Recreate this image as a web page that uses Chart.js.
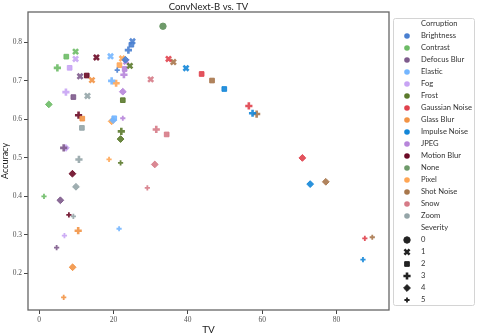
<!DOCTYPE html>
<html>
<head>
<meta charset="utf-8">
<script src="https://cdn.jsdelivr.net/npm/chart.js@4/dist/chart.umd.min.js"></script>
<style>
  body { margin: 0; background: #fff; }
</style>
</head>
<body>
<canvas id="chart" width="478" height="336"></canvas>
<script>
// --- data ---
const corruptions = ['Brightness', 'Contrast', 'Defocus Blur', 'Elastic', 'Fog', 'Frost',
  'Gaussian Noise', 'Glass Blur', 'Impulse Noise', 'JPEG', 'Motion Blur', 'Pixel',
  'Shot Noise', 'Snow', 'Zoom'];
const colors = ['#4a7fd0', '#6dbb66', '#7e5b8c', '#74b6ff', '#c8a4f4', '#5b7a2c',
  '#e0414d', '#f29345', '#1386d8', '#b785da', '#6b0a26', '#ffa655',
  '#a8774c', '#d67b87', '#95a5a8'];
const noneColor = '#6e9a6a';

// severity 1..5, one value per corruption (same order as above)
const tv1  = [25.1, 9.8, 11.0, 19.2, 9.8, 24.4, 34.8, 14.2, 39.5, 23.4, 15.4, 22.3, 36.1, 30.0, 13.0];
const acc1 = [0.803, 0.776, 0.712, 0.764, 0.757, 0.739, 0.757, 0.702, 0.733, 0.750, 0.761, 0.758, 0.749, 0.704, 0.661];
const tv2  = [24.8, 7.3, 9.2, 20.2, 8.2, 22.5, 43.7, 11.6, 49.8, 23.0, 12.8, 21.6, 46.5, 34.3, 11.5];
const acc2 = [0.794, 0.763, 0.658, 0.603, 0.734, 0.650, 0.718, 0.602, 0.679, 0.731, 0.714, 0.741, 0.701, 0.561, 0.578];
const tv3  = [24.0, 4.9, 6.6, 19.5, 7.2, 22.1, 56.4, 10.5, 57.4, 22.8, 10.6, 20.7, 58.5, 31.5, 10.7];
const acc3 = [0.780, 0.734, 0.526, 0.700, 0.671, 0.569, 0.635, 0.311, 0.616, 0.716, 0.611, 0.694, 0.614, 0.574, 0.496];
const tv4  = [23.2, 2.6, 5.7, 19.9, 7.2, 21.9, 70.8, 9.0, 72.9, 22.5, 8.95, 19.5, 77.1, 31.1, 9.9];
const acc4 = [0.755, 0.639, 0.390, 0.598, 0.526, 0.549, 0.500, 0.216, 0.432, 0.672, 0.459, 0.595, 0.438, 0.483, 0.425];
const tv5  = [21.0, 1.3, 4.7, 21.5, 6.8, 21.9, 87.6, 6.6, 87.1, 22.5, 8.0, 18.8, 89.6, 29.1, 9.2];
const acc5 = [0.728, 0.400, 0.267, 0.316, 0.298, 0.487, 0.291, 0.138, 0.236, 0.603, 0.352, 0.496, 0.294, 0.422, 0.348];

// severity 0 = no corruption
const noneTV = 33.3;
const noneAcc = 0.842;

const severities = ['0', '1', '2', '3', '4', '5'];
const xTicks = [0, 20, 40, 60, 80];
const yTicks = [0.2, 0.3, 0.4, 0.5, 0.6, 0.7, 0.8];

// --- marker look per severity ---
const sevStyle  = ['circle', 'crossRot', 'rect', 'cross', 'rectRot', 'cross'];
const sevRadius = [3.2, 3.6, 3.3, 3.6, 3.4, 2.6];
const sevBorder = [1, 2.6, 1, 2.6, 1, 1.8];

const tvs = [tv1, tv2, tv3, tv4, tv5];
const accs = [acc1, acc2, acc3, acc4, acc5];

const datasets = corruptions.map((name, c) => ({
  label: name,
  data: tvs.map((tv, s) => ({ x: tv[c], y: accs[s][c] })),
  pointStyle: [1, 2, 3, 4, 5].map(s => sevStyle[s]),
  pointRadius: [1, 2, 3, 4, 5].map(s => sevRadius[s]),
  pointBorderWidth: [1, 2, 3, 4, 5].map(s => sevBorder[s]),
  backgroundColor: colors[c] + 'e6',
  borderColor: colors[c] + 'e6'
}));
datasets.push({
  label: 'None',
  data: [{ x: noneTV, y: noneAcc }],
  pointStyle: 'circle',
  pointRadius: 3.2,
  pointBorderWidth: 1,
  backgroundColor: noneColor,
  borderColor: noneColor
});

// 凡例とタイトル、枠線は自前で描く
const legendNames = corruptions.slice(0, 11).concat(['None'], corruptions.slice(11));
const legendColors = colors.slice(0, 11).concat([noneColor], colors.slice(11));

const framePlugin = {
  id: 'frame',
  afterDraw(chart) {
    const { ctx, chartArea: a } = chart;
    ctx.save();
    ctx.strokeStyle = '#666';
    ctx.lineWidth = 1.3;
    ctx.strokeRect(a.left, a.top, a.right - a.left, a.bottom - a.top);

    // title
    ctx.fillStyle = '#222';
    ctx.font = '9.5px Lato';
    ctx.textAlign = 'center';
    ctx.textBaseline = 'middle';
    ctx.fillText('ConvNext-B vs. TV', (a.left + a.right) / 2, 6.5);

    // legend box
    ctx.strokeStyle = '#d4d4d4';
    ctx.lineWidth = 1;
    ctx.beginPath();
    ctx.roundRect(393.5, 18.5, 81, 287, 2);
    ctx.stroke();

    const mx = 407, tx = 421;
    ctx.font = '7.6px Lato';
    ctx.textAlign = 'left';
    let row = 0;
    const rowY = i => 24 + 12 * i;
    ctx.fillStyle = '#333';
    ctx.fillText('Corruption', tx, rowY(row++));
    legendNames.forEach((name, i) => {
      const y = rowY(row++);
      ctx.fillStyle = legendColors[i];
      ctx.beginPath();
      ctx.arc(mx, y, 2.8, 0, Math.PI * 2);
      ctx.fill();
      ctx.fillStyle = '#333';
      ctx.fillText(name, tx, y);
    });
    ctx.fillText('Severity', tx, rowY(row++));
    severities.forEach((s, i) => {
      const y = rowY(row++);
      ctx.fillStyle = '#222';
      ctx.strokeStyle = '#222';
      ctx.lineWidth = sevBorder[i];
      Chart.helpers.drawPoint(ctx, {
        pointStyle: sevStyle[i],
        radius: sevRadius[i],
        rotation: 0,
        borderWidth: sevBorder[i]
      }, mx, y);
      ctx.fillStyle = '#333';
      ctx.fillText(s, tx, y);
    });
    ctx.restore();
  }
};

const tickFont = { family: 'Liberation Serif', size: 7.5 };

new Chart(document.getElementById('chart'), {
  type: 'scatter',
  data: { datasets: datasets },
  options: {
    responsive: false,
    devicePixelRatio: 1,
    animation: false,
    layout: { padding: { top: 12, right: 89, left: 0, bottom: 0 } },
    plugins: {
      legend: { display: false },
      tooltip: { enabled: false }
    },
    scales: {
      x: {
        type: 'linear',
        min: -3,
        max: 94.1,
        afterBuildTicks: s => { s.ticks = xTicks.map(v => ({ value: v })); },
        afterFit: s => { s.height = 26; },
        ticks: { font: tickFont, color: '#555', padding: 2, maxRotation: 0 },
        grid: { drawOnChartArea: false, drawTicks: true, tickLength: 4, tickColor: '#444' },
        border: { display: false },
        title: { display: true, text: 'TV', font: { family: 'Lato', size: 10 }, color: '#222', padding: 0 }
      },
      y: {
        type: 'linear',
        min: 0.105,
        max: 0.879,
        afterBuildTicks: s => { s.ticks = yTicks.map(v => ({ value: v })); },
        afterFit: s => { s.width = 28; },
        ticks: { font: tickFont, color: '#555', padding: 2, callback: v => v.toFixed(1) },
        grid: { drawOnChartArea: false, drawTicks: true, tickLength: 4, tickColor: '#444' },
        border: { display: false },
        title: { display: true, text: 'Accuracy', font: { family: 'Lato', size: 9 }, color: '#222', padding: 0 }
      }
    }
  },
  plugins: [framePlugin]
});
</script>
</body>
</html>
